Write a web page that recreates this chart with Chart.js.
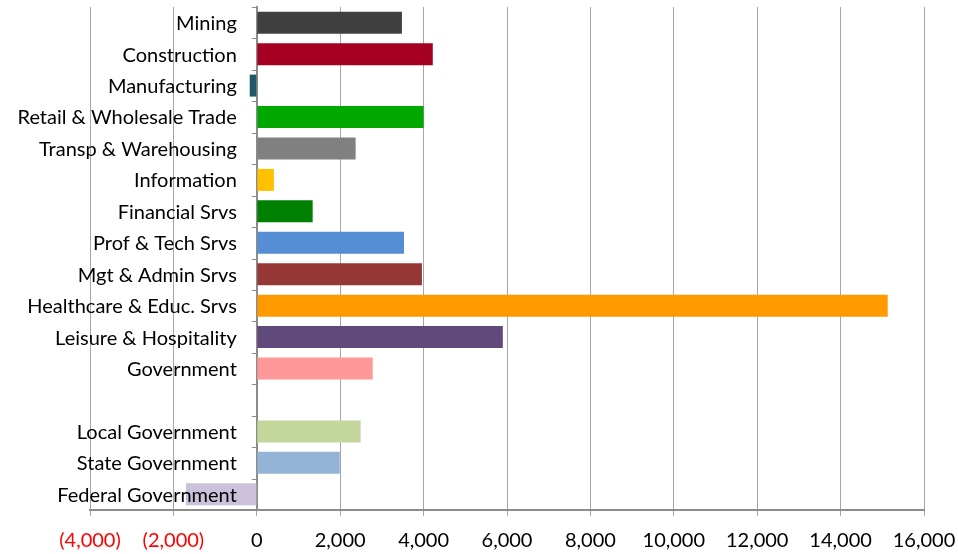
<!DOCTYPE html>
<html>
<head>
<meta charset="utf-8">
<script src="https://cdn.jsdelivr.net/npm/chart.js@4/dist/chart.umd.min.js"></script>
<style>
  html, body { margin: 0; padding: 0; background: #fff; }
  #wrap { width: 958px; height: 554px; }
</style>
</head>
<body>
<div id="wrap"><canvas id="chart" width="958" height="554"></canvas></div>
<script>
// job change by sector
const sectors = [
    'Mining', 'Construction', 'Manufacturing', 'Retail & Wholesale Trade',
    'Transp & Warehousing', 'Information', 'Financial Srvs', 'Prof & Tech Srvs',
    'Mgt & Admin Srvs', 'Healthcare & Educ. Srvs', 'Leisure & Hospitality', 'Government',
    '', 'Local Government', 'State Government', 'Federal Government'
]
const jobChange = [
    3480, 4220, -170, 4000,
    2370, 410, 1340, 3530,
    3960, 15130, 5900, 2780,
    null, 2490, 1990, -1700
]
const barColors = [
    '#404040', '#A50021', '#215968', '#00A800',
    '#808080', '#FFC000', '#008000', '#558ED5',
    '#953735', '#FF9900', '#604A7B', '#FF9999',
    '#ffffff', '#C3D69B', '#95B3D7', '#CCC1DA'
]
const xMin = -4000
const xMax = 16000
const xStep = 2000

const fmt = v => {
    const s = Math.abs(v).toLocaleString('en-US')
    return v < 0 ? '(' + s + ')' : s
}

const font = { family: 'Lato, "Open Sans", sans-serif', size: 20 }
const axisGrey = '#8c8c8c'

// category labels sit just left of the zero line, on top of the bars (excel style)
const sectorLabels = {
    id: 'sectorLabels',
    afterDatasetsDraw(chart) {
        const { ctx, scales: { x, y } } = chart
        const x0 = x.getPixelForValue(0)
        ctx.save()
        // small ticks on the zero axis between categories
        ctx.strokeStyle = axisGrey
        ctx.lineWidth = 1
        const half = (y.getPixelForTick(1) - y.getPixelForTick(0)) / 2
        for (let i = 0; i <= sectors.length; i++) {
            const py = Math.round((i < sectors.length ? y.getPixelForTick(i) - half : y.getPixelForTick(i - 1) + half)) + 0.5
            ctx.beginPath()
            ctx.moveTo(x0 - 5, py)
            ctx.lineTo(x0, py)
            ctx.stroke()
        }
        ctx.fillStyle = '#000'
        ctx.font = font.size + 'px ' + font.family
        ctx.textAlign = 'right'
        ctx.textBaseline = 'middle'
        sectors.forEach((s, i) => {
            if (s) ctx.fillText(s, x0 - 20, y.getPixelForTick(i) + 1)
        })
        ctx.restore()
    }
}

new Chart(document.getElementById('chart'), {
    type: 'bar',
    data: {
        labels: sectors,
        datasets: [{
            data: jobChange,
            backgroundColor: barColors,
            categoryPercentage: 1,
            barPercentage: 0.7
        }]
    },
    options: {
        indexAxis: 'y',
        animation: false,
        responsive: false,
        layout: { padding: { left: 90, right: 34, top: 7, bottom: 3 } },
        plugins: {
            legend: { display: false },
            tooltip: { enabled: false }
        },
        scales: {
            x: {
                min: xMin,
                max: xMax,
                afterFit: scale => {
                    scale.height = 41
                    scale.paddingLeft = 0
                    scale.paddingRight = 0
                },
                ticks: {
                    stepSize: xStep,
                    font,
                    padding: 13,
                    maxRotation: 0,
                    color: ctx => ctx.tick.value < 0 ? '#FF0000' : '#000000',
                    callback: v => fmt(v)
                },
                grid: { color: '#a6a6a6', lineWidth: 1, tickLength: 6 },
                border: { color: axisGrey, width: 2 }
            },
            y: {
                type: 'category',
                position: { x: 0 },
                ticks: { display: false },
                grid: { display: false },
                border: { color: axisGrey, width: 2 }
            }
        }
    },
    plugins: [sectorLabels]
})
</script>
</body>
</html>
